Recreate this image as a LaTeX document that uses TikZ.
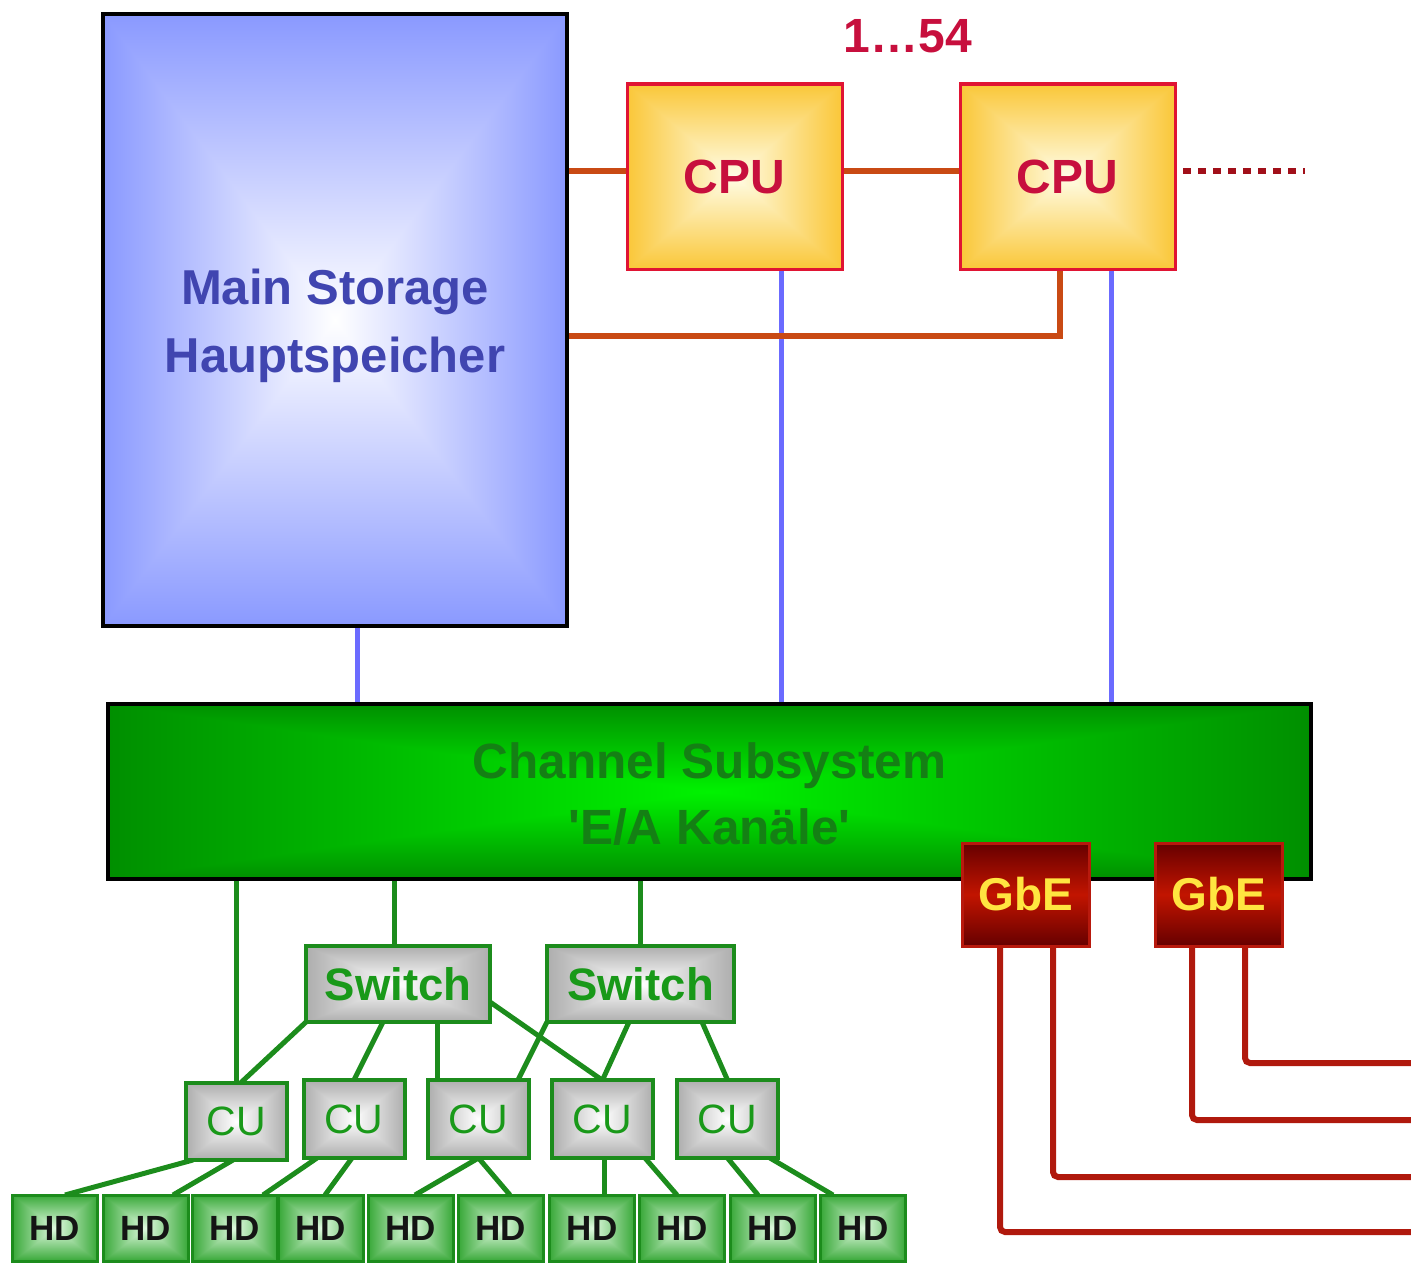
\documentclass[tikz,border=0pt]{standalone}
\usepackage{fontspec}
\setmainfont{Liberation Sans}
\usetikzlibrary{calc}
\pgfdeclarelayer{bg}
\pgfsetlayers{bg,main}
% rectangular "from centre" gradient: centre colour #2-#4, edge colour #5-#7
\newcommand\mkboxgrad[7]{%
  \pgfdeclarefunctionalshading{#1}{\pgfpoint{-50bp}{-50bp}}{\pgfpoint{50bp}{50bp}}{}{%
    abs exch abs 2 copy lt {exch} if pop 25 div dup 1 gt {pop 1} if
    dup dup
    #7 #4 sub mul #4 add
    exch #6 #3 sub mul #3 add
    exch
    3 -1 roll #5 #2 sub mul #2 add
    3 1 roll
  }}
\mkboxgrad{gradMS}{1}{1}{1}{0.54}{0.60}{1}
\mkboxgrad{gradCPU}{1}{0.99}{0.90}{0.98}{0.78}{0.22}
\mkboxgrad{gradCH}{0}{0.95}{0}{0}{0.56}{0}
\mkboxgrad{gradGR}{1}{1}{1}{0.68}{0.68}{0.68}
\mkboxgrad{gradHD}{0.88}{0.98}{0.88}{0.22}{0.66}{0.22}
\definecolor{mstext}{rgb}{0.25,0.27,0.69}
\definecolor{cputext}{rgb}{0.78,0.06,0.24}
\definecolor{cpuborder}{rgb}{0.88,0.08,0.20}
\definecolor{orng}{rgb}{0.79,0.29,0.08}
\definecolor{dotred}{rgb}{0.63,0.06,0.10}
\definecolor{blueline}{rgb}{0.42,0.42,1}
\definecolor{chtext}{rgb}{0.08,0.50,0.08}
\definecolor{grn}{rgb}{0.11,0.55,0.11}
\definecolor{grntext}{rgb}{0.10,0.60,0.10}
\definecolor{gbeborder}{rgb}{0.72,0.10,0.05}
\definecolor{gbedark}{rgb}{0.40,0,0}
\definecolor{gbemid}{rgb}{0.76,0.08,0}
\definecolor{gbetext}{rgb}{1,0.90,0.25}
\definecolor{wire}{rgb}{0.69,0.10,0.05}
\begin{document}
\begin{tikzpicture}[x=1pt,y=-1pt,
  box/.style={draw, inner sep=0pt, outer sep=0pt, anchor=center},
  msbox/.style={box, draw=black, line width=3.5pt, shading=gradMS,
    minimum width=464pt, minimum height=612pt},
  mslabel/.style={inner sep=0pt, text=mstext, align=center,
    font=\fontsize{49}{68}\selectfont\bfseries},
  cpubox/.style={box, draw=cpuborder, line width=3pt, shading=gradCPU,
    minimum width=215pt, minimum height=185pt, text=cputext,
    font=\fontsize{48}{52}\selectfont\bfseries},
  cntlabel/.style={inner sep=0pt, text=cputext, font=\fontsize{48}{52}\selectfont\bfseries},
  chanbox/.style={box, draw=black, line width=4pt, shading=gradCH,
    minimum width=1203pt, minimum height=175pt},
  chanlabel/.style={inner sep=0pt, text=chtext, align=center,
    font=\fontsize{49.5}{66}\selectfont\bfseries},
  gbebox/.style={box, draw=gbeborder, line width=3pt, top color=gbedark,
    bottom color=gbedark, middle color=gbemid,
    minimum width=127pt, minimum height=103pt, text=gbetext,
    font=\fontsize{46}{50}\selectfont\bfseries},
  swbox/.style={box, draw=grn, line width=4pt, shading=gradGR,
    minimum width=184pt, minimum height=76pt, text=grntext,
    font=\fontsize{45.5}{50}\selectfont\bfseries},
  cubox/.style={box, draw=grn, line width=4pt, shading=gradGR,
    minimum width=101pt, minimum height=78pt, text=grntext,
    font=\fontsize{41}{45}\selectfont},
  hdbox/.style={box, draw=grn, line width=3pt, shading=gradHD,
    minimum width=85pt, minimum height=66pt, text=black!92,
    font=\fontsize{35}{40}\selectfont\bfseries},
  oline/.style={draw=orng, line width=6pt},
  bline/.style={draw=blueline, line width=5pt},
  gline/.style={draw=grn, line width=5pt},
  rline/.style={draw=wire, line width=6pt, rounded corners=5pt},
  dline/.style={draw=dotred, line width=6pt, dash pattern=on 8pt off 7pt}
]
\useasboundingbox (0,0) rectangle (1411,1263);

% ---------- nodes ----------
\node[msbox] (ms) at (335,320) {};
\node[mslabel] (mstxt) at (335,326) {Main Storage\\Hauptspeicher};
\node[cpubox] (cpu1) at (734.5,176.5) {CPU};
\node[cpubox] (cpu2) at (1067.5,176.5) {CPU};
\node[cntlabel] (cnt) at (908,36) {1…54};
\node[chanbox] (chan) at (709.5,791.5) {};
\node[chanlabel] (chantxt) at (709.5,794.5) {Channel Subsystem\\\textquotesingle E/A Kanäle\textquotesingle};
\node[gbebox] (gbe1) at (1025.5,894.5) {GbE};
\node[gbebox] (gbe2) at (1218.5,894.5) {GbE};
\node[swbox] (sw1) at (398,984) {Switch};
\node[swbox, minimum width=187pt] (sw2) at (640.5,984) {Switch};
\node[cubox, minimum height=77pt] (cu1) at (236.5,1121.5) {CU};
\node[cubox] (cu2) at (354,1119) {CU};
\node[cubox] (cu3) at (478.5,1119) {CU};
\node[cubox] (cu4) at (602.5,1119) {CU};
\node[cubox] (cu5) at (727.5,1119) {CU};
\node[hdbox] (hd1) at (55,1228) {HD};
\node[hdbox] (hd2) at (145.5,1228) {HD};
\node[hdbox] (hd3) at (235,1228) {HD};
\node[hdbox] (hd4) at (321,1228) {HD};
\node[hdbox] (hd5) at (410.5,1228) {HD};
\node[hdbox] (hd6) at (501,1228) {HD};
\node[hdbox] (hd7) at (592,1228) {HD};
\node[hdbox] (hd8) at (682,1228) {HD};
\node[hdbox] (hd9) at (772.5,1228) {HD};
\node[hdbox] (hd10) at (863,1228) {HD};

% ---------- helper coordinates ----------
\coordinate (c1w) at ($(cpu1.west)+(0,-5.5)$);
\coordinate (c1e) at ($(cpu1.east)+(0,-5.5)$);
\coordinate (c2w) at ($(cpu2.west)+(0,-5.5)$);
\coordinate (c2e) at ($(cpu2.east)+(8,-5.5)$);
\coordinate (dotend) at (1305,171);
\coordinate (c2b) at ($(cpu2.south)+(-7.5,0)$);
\coordinate (msr) at ($(ms.east)+(0,16)$);
\coordinate (msb) at ($(ms.south)+(22,0)$);
\coordinate (c1b) at ($(cpu1.south)+(46.5,0)$);
\coordinate (c2bb) at ($(cpu2.south)+(43.5,0)$);
\coordinate (s1t) at ($(sw1.north)+(-4,0)$);
\coordinate (s1v) at ($(sw1.south)+(39,0)$);
\coordinate (g1a) at ($(gbe1.south)+(-25.5,-6)$);
\coordinate (g1b) at ($(gbe1.south)+(27.5,-6)$);
\coordinate (g2a) at ($(gbe2.south)+(-26.5,-6)$);
\coordinate (g2b) at ($(gbe2.south)+(26.5,-6)$);
\coordinate (w1) at (1411,1232);
\coordinate (w2) at (1411,1177);
\coordinate (w3) at (1411,1120);
\coordinate (w4) at (1411,1063);

% ---------- connectors ----------
\begin{pgfonlayer}{bg}
  % blue buses
  \draw[bline] (msb) -- (msb |- chan.north);
  \draw[bline] (c1b) -- (c1b |- chan.north);
  \draw[bline] (c2bb) -- (c2bb |- chan.north);
  % orange CPU links
  \draw[oline] (ms.east |- c1w) -- (c1w);
  \draw[oline] (c1e) -- (c2w);
  \draw[oline] (c2b) |- (msr);
  \draw[dline] (c2e) -- (dotend);
  % channel to switches / CU
  \draw[gline] (cu1.north |- chan.south) -- (cu1.north);
  \draw[gline] (s1t |- chan.south) -- (s1t);
  \draw[gline] (sw2.north |- chan.south) -- (sw2.north);
  % switches to CUs
  \draw[gline] (sw1.south west) -- ($(cu1.north)+(4,0)$);
  \draw[gline] ($(sw1.south)+(-15,0)$) -- (cu2.north);
  \draw[gline] (s1v) -- (s1v |- cu3.north);
  \draw[gline] ($(sw1.east)+(0,18)$) -- ($(cu4.north)+(-0.5,0)$);
  \draw[gline] (sw2.south west) -- ($(cu3.north)+(39.5,0)$);
  \draw[gline] ($(sw2.south)+(-11.5,0)$) -- (cu4.north);
  \draw[gline] ($(sw2.south)+(61.5,0)$) -- (cu5.north);
  % CUs to HDs
  \draw[gline] ($(cu1.south)+(-43.5,0)$) -- ($(hd1.north)+(10,0)$);
  \draw[gline] ($(cu1.south)+(-3.5,0)$) -- ($(hd2.north)+(27.5,0)$);
  \draw[gline] ($(cu2.south)+(-37,0)$) -- ($(hd3.north)+(28,0)$);
  \draw[gline] ($(cu2.south)+(-2,0)$) -- ($(hd4.north)+(4,0)$);
  \draw[gline] (cu3.south) -- ($(hd5.north)+(4.5,0)$);
  \draw[gline] (cu3.south) -- ($(hd6.north)+(9,0)$);
  \draw[gline] ($(cu4.south)+(1.5,0)$) -- ($(hd7.north)+(12,0)$);
  \draw[gline] ($(cu4.south)+(42.5,0)$) -- ($(hd8.north)+(-5,0)$);
  \draw[gline] (cu5.south) -- ($(hd9.north)+(-14.5,0)$);
  \draw[gline] ($(cu5.south)+(42.5,0)$) -- ($(hd10.north)+(-30,0)$);
  % GbE wires
  \draw[rline] (g1a) |- (w1);
  \draw[rline] (g1b) |- (w2);
  \draw[rline] (g2a) |- (w3);
  \draw[rline] (g2b) |- (w4);
\end{pgfonlayer}
\end{tikzpicture}
\end{document}
